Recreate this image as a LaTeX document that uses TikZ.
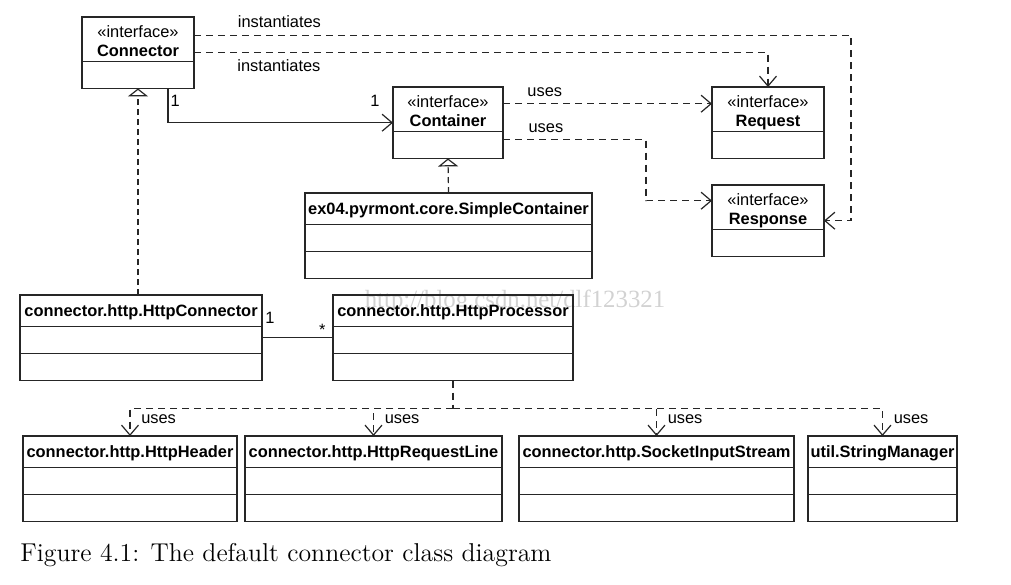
\documentclass[tikz,border=0pt]{standalone}
\usepackage{fontspec}
\setsansfont{Liberation Sans}
\newfontfamily\wmfont{Liberation Serif}
\usepackage{tikz}
\usetikzlibrary{shapes, arrows.meta, calc}
\usepackage{xcolor}

\newcommand{\headrule}{\rule[-4.6pt]{0pt}{15pt}}
\newcommand{\slotrule}{\rule{0pt}{13pt}}
\newcommand{\interfacehead}[1]{«interface»\rule{0pt}{9.7pt}\\\textbf{#1}\rule[-2.3pt]{0pt}{2.3pt}}

\begin{document}
\begin{tikzpicture}[x=0.5pt, y=-0.5pt, font=\sffamily\fontsize{8.2}{9.5}\selectfont]
			\tikzstyle{classbox}=[
			draw=black!85,
			line width=0.6pt,
			rectangle split,
			rectangle split parts=3,
			inner xsep=0pt,
			inner ysep=0pt,
			outer sep=0pt,
			align=center,
			anchor=north west
			]
			\tikzstyle{ifacebox}=[classbox, rectangle split parts=2]
			\tikzstyle{depend}=[draw=black!85, line width=0.6pt, dash pattern=on 3.5pt off 2.5pt, -{Straight Barb[length=5pt, width=8.5pt]}]
			\tikzstyle{realize}=[draw=black!85, line width=0.6pt, dash pattern=on 3pt off 2pt, -{Triangle[open, length=4pt, width=10pt]}]
			\tikzstyle{assoc}=[draw=black!85, line width=0.6pt]
			\tikzstyle{mult}=[inner sep=1pt]
			\tikzstyle{wmark}=[font=\wmfont\fontsize{12.4}{14}\selectfont, text=gray!35, inner sep=0pt]
			\useasboundingbox (0,0) rectangle (1011,584);
			\node[wmark] (wm) at (515,301) {http://blog.csdn.net/dlf123321};
			%
			\node[ifacebox, text width=56pt] (conn) at (82,17) {\interfacehead{Connector} \nodepart{two} \slotrule};
			\node[ifacebox, text width=55pt] (cont) at (393,87) {\interfacehead{Container} \nodepart{two} \slotrule};
			\node[ifacebox, text width=56pt] (req) at (712,87) {\interfacehead{Request} \nodepart{two} \slotrule};
			\node[ifacebox, text width=56pt] (resp) at (712,185) {\interfacehead{Response} \nodepart{two} \slotrule};
			\node[classbox, text width=143.5pt] (simple) at (305,193) {\headrule\textbf{ex04.pyrmont.core.SimpleContainer} \nodepart{two} \slotrule \nodepart{three} \slotrule};
			\node[classbox, text width=121pt] (hconn) at (20,295) {\headrule\textbf{connector.http.HttpConnector} \nodepart{two} \slotrule \nodepart{three} \slotrule};
			\node[classbox, text width=120pt] (hproc) at (333,295) {\headrule\textbf{connector.http.HttpProcessor} \nodepart{two} \slotrule \nodepart{three} \slotrule};
			\node[classbox, text width=107pt] (header) at (23,436) {\headrule\textbf{connector.http.HttpHeader} \nodepart{two} \slotrule \nodepart{three} \slotrule};
			\node[classbox, text width=128.5pt] (reqline) at (245,436) {\headrule\textbf{connector.http.HttpRequestLine} \nodepart{two} \slotrule \nodepart{three} \slotrule};
			\node[classbox, text width=137.5pt] (sockin) at (519,436) {\headrule\textbf{connector.http.SocketInputStream} \nodepart{two} \slotrule \nodepart{three} \slotrule};
			\node[classbox, text width=74.5pt] (strmgr) at (808,436) {\headrule\textbf{util.StringManager} \nodepart{two} \slotrule \nodepart{three} \slotrule};
			%
			\draw[depend] ([yshift=8.75pt]conn.east) -| node[pos=0.065, above] {instantiates} ([xshift=13.5pt]resp.east) -- (resp.east);
			\draw[depend] (conn.east) -| node[pos=0.074, below] {instantiates} (req.north);
			\draw[assoc, -{Straight Barb[length=5pt, width=8.5pt]}] ([xshift=15pt]conn.south) |- node[pos=0.18, right, mult] {1} node[pos=0.96, above=7pt, mult] {1} (cont.west);
			\draw[depend] ([yshift=9.5pt]cont.east) -- node[pos=0.2, above] {uses} ([yshift=9.5pt]req.west);
			\draw[depend] ([yshift=-8.5pt]cont.east) -- node[pos=0.3, above] {uses} ++(71.5pt,0pt) |- ([yshift=10pt]resp.west);
			\draw[realize] (simple.north) -- (cont.south);
			\draw[realize] (conn.south |- hconn.north) -- (conn.south);
			\draw[assoc] (hconn.east) -- node[pos=0.11, above=6pt, mult] {1} node[pos=0.85, above=0pt, mult] {*} (hproc.west);
			%
			\coordinate (bus) at ([yshift=-14pt]hproc.south);
			\draw[depend, -, line width=1.2pt] (hproc.south) -- (bus);
			\foreach \target in {header, reqline, sockin, strmgr}
				\draw[depend] (bus) -| node[pos=0.7, right=2pt] {uses} (\target.north);
			%
			\node[anchor=base west, inner sep=0pt, font=\rmfamily\fontsize{12.9}{15}\selectfont] (cap) at (20,561) {Figure 4.1: The default connector class diagram};
		\end{tikzpicture}
\end{document}
